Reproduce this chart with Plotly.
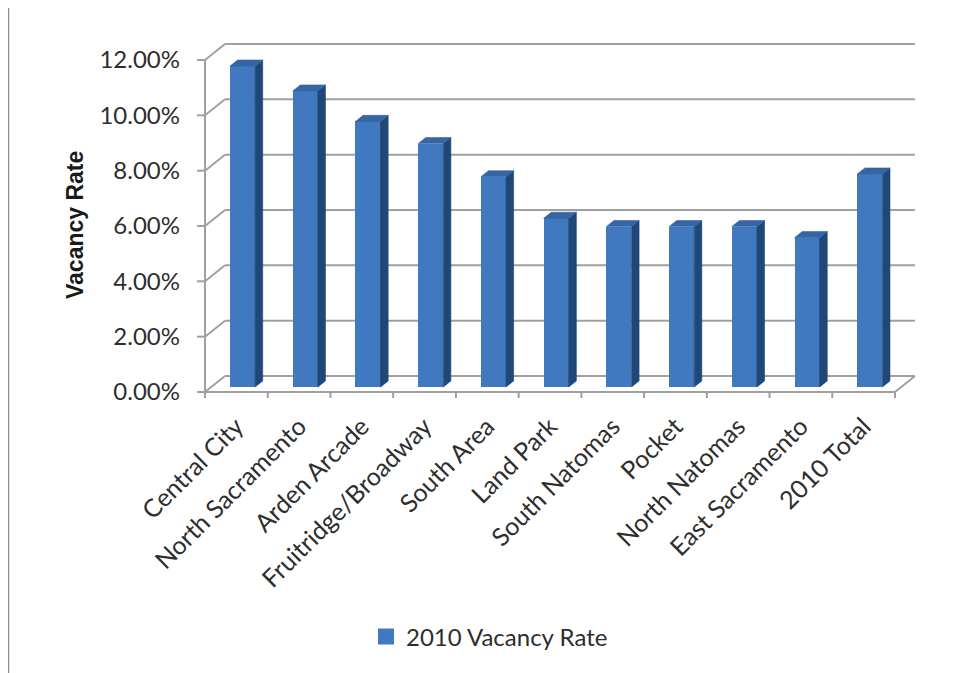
import plotly.graph_objects as go

# ---------------- data ----------------
categories = ["Central City", "North Sacramento", "Arden Arcade", "Fruitridge/Broadway",
              "South Area", "Land Park", "South Natomas", "Pocket", "North Natomas",
              "East Sacramento", "2010 Total"]
vacancy_rate = [11.6, 10.7, 9.6, 8.8, 7.6, 6.1, 5.8, 5.8, 5.8, 5.4, 7.7]
y_ticks = [0, 2, 4, 6, 8, 10, 12]
y_tick_labels = [f"{v:.2f}%" for v in y_ticks]
series_name = "2010 Vacancy Rate"
y_title = "Vacancy Rate"

# ---------------- geometry (pixels) ----------------
W, H = 954, 673
OFF = 8                 # page body margin offset
n = len(categories)
CAT_PX = 62.73          # width of one category on the front plane
UNIT_PX = 27.67         # pixels per 1 percentage point
X0_PX = 205 - OFF       # pixel of x=-0.5 (front left corner)
Y0_PX = 392 - OFF       # pixel of y=0 (front floor edge)
DX = 20 / CAT_PX        # depth offset (x, data units)
DY = 16 / UNIT_PX       # depth offset (y, data units)
F1, F2 = 0.31, 0.69     # bar front / back depth fractions
BAR_W = 0.4

x_lo = -0.5 - 12 / CAT_PX
x_hi = n - 0.5 + DX + 3 / CAT_PX
y_hi = max(y_ticks) + DY + 2 / UNIT_PX
y_lo = -8 / UNIT_PX
plot_left = X0_PX + (x_lo + 0.5) * CAT_PX
plot_right = X0_PX + (x_hi + 0.5) * CAT_PX
plot_top = Y0_PX - y_hi * UNIT_PX
plot_bottom = Y0_PX - y_lo * UNIT_PX
plot_w = plot_right - plot_left
plot_h = plot_bottom - plot_top


def px_to_paper_x(px):
    return (px - OFF - plot_left) / plot_w


def px_to_paper_y(py):
    return (plot_bottom - (py - OFF)) / plot_h


FRONT = "#4079BF"
SIDE = "#1F4777"
TOP = "#3566A3"
GRID = "#A0A0A0"
TEXT = "#2E2E2E"
FONT = "Lato"

fig = go.Figure()

# ---------------- bars (front faces) ----------------
base = F1 * DY
fig.add_trace(go.Bar(
    x=[i + F1 * DX for i in range(n)], y=vacancy_rate, base=[base] * n,
    width=BAR_W, marker=dict(color=FRONT, line=dict(width=0)),
    name=series_name, showlegend=False, hoverinfo="skip"))

# side faces and top faces
sx, sy, tx, ty = [], [], [], []
d_x = (F2 - F1) * DX
d_y = (F2 - F1) * DY
for i, v in enumerate(vacancy_rate):
    xl = i + F1 * DX - BAR_W / 2
    xr = i + F1 * DX + BAR_W / 2
    top = base + v
    sx += [xr, xr + d_x, xr + d_x, xr, xr, None]
    sy += [base, base + d_y, top + d_y, top, base, None]
    tx += [xl, xr, xr + d_x, xl + d_x, xl, None]
    ty += [top, top, top + d_y, top + d_y, top, None]

fig.add_trace(go.Scatter(x=sx, y=sy, mode="lines", fill="toself", fillcolor=SIDE,
                         line=dict(color=SIDE, width=0.6), showlegend=False, hoverinfo="skip"))
fig.add_trace(go.Scatter(x=tx, y=ty, mode="lines", fill="toself", fillcolor=TOP,
                         line=dict(color=TOP, width=0.6), showlegend=False, hoverinfo="skip"))

# legend proxy (square swatch)
fig.add_trace(go.Scatter(x=[None], y=[None], mode="markers", name=series_name,
                         marker=dict(symbol="square", size=16, color=FRONT),
                         showlegend=True, hoverinfo="skip"))

# ---------------- walls, floor, gridlines ----------------
shapes = []
ln = dict(color=GRID, width=2)
for v in y_ticks:
    shapes.append(dict(type="line", xref="x", yref="y", x0=-0.5 + DX, x1=n - 0.5 + DX,
                       y0=v + DY, y1=v + DY, line=ln, layer="below"))
    shapes.append(dict(type="line", xref="x", yref="y", x0=-0.5, x1=-0.5 + DX,
                       y0=v, y1=v + DY, line=ln, layer="below"))
    shapes.append(dict(type="line", xref="x", yref="y", x0=-0.5 - 8 / CAT_PX, x1=-0.5,
                       y0=v, y1=v, line=ln, layer="below"))
shapes.append(dict(type="line", xref="x", yref="y", x0=-0.5, x1=-0.5,
                   y0=0, y1=max(y_ticks), line=ln, layer="below"))
shapes.append(dict(type="line", xref="x", yref="y", x0=-0.5, x1=n - 0.5,
                   y0=0, y1=0, line=ln, layer="below"))
shapes.append(dict(type="line", xref="x", yref="y", x0=n - 0.5, x1=n - 0.5 + DX,
                   y0=0, y1=DY, line=ln, layer="below"))
for k in range(n + 1):
    shapes.append(dict(type="line", xref="x", yref="y", x0=k - 0.5, x1=k - 0.5,
                       y0=0, y1=-6 / UNIT_PX, line=ln, layer="below"))
# outer chart border (left & top visible)
shapes.append(dict(type="rect", xref="paper", yref="paper",
                   x0=px_to_paper_x(8.5), x1=px_to_paper_x(975),
                   y0=px_to_paper_y(700), y1=px_to_paper_y(6.5),
                   line=dict(color="#8C8C8C", width=1.5), fillcolor="rgba(0,0,0,0)"))

fig.update_layout(
    width=W, height=H,
    margin=dict(l=plot_left, r=W - plot_right, t=plot_top, b=H - plot_bottom, pad=0,
                autoexpand=False),
    paper_bgcolor="white", plot_bgcolor="white",
    shapes=shapes,
    font=dict(family=FONT, size=24, color=TEXT),
    xaxis=dict(range=[x_lo, x_hi], tickvals=list(range(n)), ticktext=categories,
               tickangle=-45, showgrid=False, zeroline=False, showline=False, ticks="",
               ticklabelstandoff=6,
               tickfont=dict(family=FONT, size=25, color=TEXT), fixedrange=True),
    yaxis=dict(range=[y_lo, y_hi], tickvals=y_ticks, ticktext=y_tick_labels,
               showgrid=False, zeroline=False, showline=False, ticks="",
               ticklabelstandoff=12,
               tickfont=dict(family=FONT, size=24, color=TEXT), fixedrange=True),
    legend=dict(orientation="h", x=px_to_paper_x(366), xanchor="left",
                y=px_to_paper_y(637), yanchor="middle", itemwidth=30,
                font=dict(family=FONT, size=24, color=TEXT), bgcolor="rgba(0,0,0,0)"),
    annotations=[dict(text=f"<b>{y_title}</b>", textangle=-90, xref="paper", yref="paper",
                      x=px_to_paper_x(75), y=px_to_paper_y(225), xanchor="center",
                      yanchor="middle", showarrow=False,
                      font=dict(family="Liberation Sans", size=23, color="#1a1a1a"))],
    bargap=0,
)

fig.write_html("out.html")
